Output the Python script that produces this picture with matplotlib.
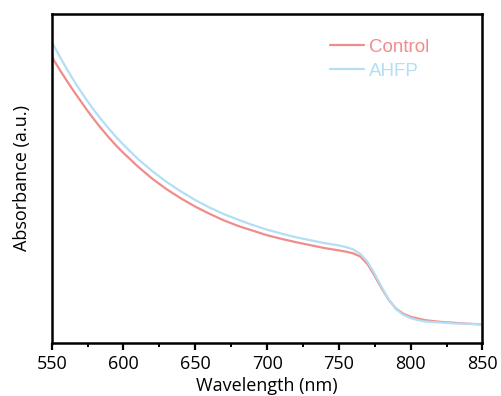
import numpy as np
import matplotlib.pyplot as plt
from matplotlib.ticker import MultipleLocator

# wavelength (nm) and absorbance (a.u.)
wavelength = [550, 555, 560, 565, 570, 575, 580, 585, 590, 595, 600, 610, 620,
              630, 640, 650, 660, 670, 680, 690, 700, 710, 720, 730, 740, 750,
              755, 760, 765, 770, 775, 780, 785, 790, 795, 800, 805, 810, 820,
              830, 840, 850]
control = [0.869, 0.833, 0.799, 0.766, 0.735, 0.704, 0.675, 0.648, 0.622,
           0.598, 0.576, 0.535, 0.498, 0.466, 0.438, 0.413, 0.391, 0.371,
           0.354, 0.340, 0.326, 0.315, 0.305, 0.296, 0.287, 0.280, 0.276,
           0.271, 0.261, 0.238, 0.202, 0.163, 0.128, 0.102, 0.087, 0.078,
           0.073, 0.068, 0.063, 0.060, 0.057, 0.055]
ahfp = [0.914, 0.874, 0.835, 0.799, 0.765, 0.733, 0.703, 0.675, 0.649, 0.624,
        0.601, 0.558, 0.521, 0.488, 0.459, 0.433, 0.410, 0.390, 0.373, 0.357,
        0.343, 0.331, 0.320, 0.311, 0.302, 0.295, 0.290, 0.283, 0.269, 0.245,
        0.208, 0.167, 0.129, 0.100, 0.084, 0.074, 0.068, 0.064, 0.061, 0.058,
        0.057, 0.055]

labels = ['Control', 'AHFP']
colors = ['#f08c8c', '#b4def4']

plt.rcParams['font.family'] = ['Open Sans', 'DejaVu Sans']

fig = plt.figure(figsize=(5.01, 3.96), dpi=100)
ax = fig.add_axes([0.1032, 0.1351, 0.8598, 0.8308])

for y, lab, c in zip([control, ahfp], labels, colors):
    ax.plot(wavelength, y, color=c, lw=1.6, label=lab,
            solid_joinstyle='round', solid_capstyle='round')

ax.set_xlim(550, 850)
ax.set_ylim(0, 1)
ax.set_yticks([])
ax.xaxis.set_major_locator(MultipleLocator(50))
ax.xaxis.set_minor_locator(MultipleLocator(25))
ax.tick_params(axis='x', which='major', direction='out', length=5, width=1.6,
               labelsize=13, pad=4)
ax.tick_params(axis='x', which='minor', direction='out', length=3, width=1.4)
for s in ax.spines.values():
    s.set_linewidth(1.8)

ax.set_xlabel('Wavelength (nm)', fontsize=13, labelpad=3)
ax.set_ylabel('Absorbance (a.u.)', fontsize=13, labelpad=15)

leg = ax.legend(loc='upper left', bbox_to_anchor=(0.646, 0.923), frameon=False,
                prop={'family': 'Liberation Sans', 'size': 13.5},
                handlelength=1.8, handletextpad=0.3, labelspacing=0.37,
                borderpad=0, borderaxespad=0, labelcolor='linecolor')

fig.savefig('out.png', dpi=100)
